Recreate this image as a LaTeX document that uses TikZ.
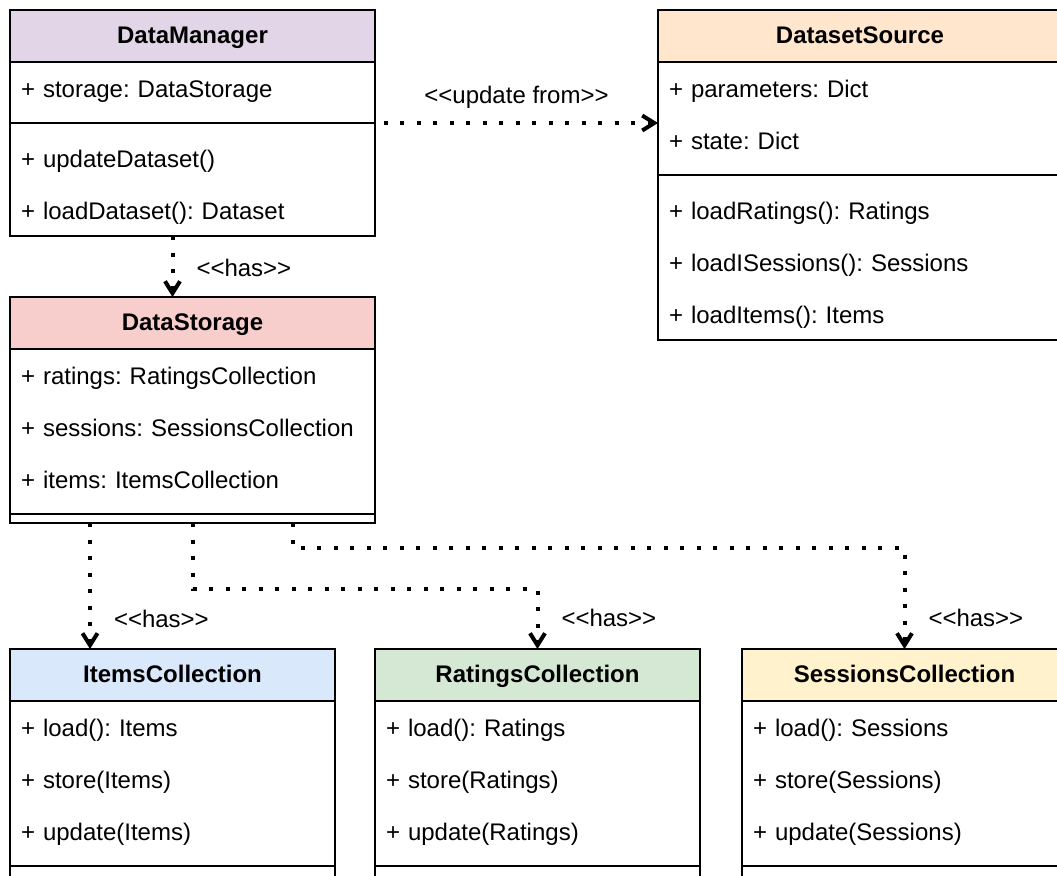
\documentclass[tikz,border=0pt]{standalone}
\usepackage{fontspec}
\usepackage{tikz}
\usetikzlibrary{arrows.meta}
\usetikzlibrary{positioning}
\newfontfamily\umlfont{Liberation Sans}
\definecolor{mgrpurple}{HTML}{E1D5E7}
\definecolor{srcorange}{HTML}{FFE6CC}
\definecolor{storered}{HTML}{F8CECC}
\definecolor{itemblue}{HTML}{DAE8FC}
\definecolor{ratinggreen}{HTML}{D5E8D4}
\definecolor{sessionyellow}{HTML}{FFF2CC}

\begin{document}
\umlfont\fontsize{12pt}{14pt}\selectfont\frenchspacing
\begin{tikzpicture}[
        x=0.5pt, y=-0.5pt,
        line width=1pt,
        every node/.style={outer sep=0pt},
        umlhead/.style={draw, fill=#1, font=\bfseries, minimum height=26pt, inner sep=0pt, text height=10pt, text depth=2.5pt, anchor=north},
        umlrow/.style={text width=#1, align=left, inner xsep=5.5pt, inner ysep=0pt, minimum height=26pt, text height=12pt, text depth=2.5pt, anchor=north},
        umlgap/.style={umlrow=#1, minimum height=9pt, text height=0pt, text depth=0pt},
        dep/.style={line width=2pt, dash pattern=on 2pt off 6.25pt, -{Straight Barb[length=6pt,width=7.5pt]}},
        deplabel/.style={inner sep=0pt, text height=12pt, text depth=2.5pt}
    ]
    \useasboundingbox (0,0) rectangle (1057,875);
    \clip (0,0) rectangle (1057,875);

    % DataManager
    \node[umlhead=mgrpurple, minimum width=182.5pt] (mgr) at (192.5,10) {DataManager};
    \node[umlrow=171.5pt, below=0pt of mgr] (mgr1) {+ storage: DataStorage};
    \node[umlgap=171.5pt, below=0pt of mgr1] (mgrsep) {};
    \node[umlrow=171.5pt, below=0pt of mgrsep] (mgr2) {+ updateDataset()};
    \node[umlrow=171.5pt, below=0pt of mgr2] (mgr3) {+ loadDataset(): Dataset};
    \draw (mgr.north west) rectangle (mgr3.south east);
    \draw (mgrsep.west) -- (mgrsep.east);

    % DatasetSource
    \node[umlhead=srcorange, minimum width=202pt, right=141.5pt of mgr] (src) {DatasetSource};
    \node[umlrow=191pt, below=0pt of src] (src1) {+ parameters: Dict};
    \node[umlrow=191pt, below=0pt of src1] (src2) {+ state: Dict};
    \node[umlgap=191pt, below=0pt of src2] (srcsep) {};
    \node[umlrow=191pt, below=0pt of srcsep] (src3) {+ loadRatings(): Ratings};
    \node[umlrow=191pt, below=0pt of src3] (src4) {+ loadISessions(): Sessions};
    \node[umlrow=191pt, below=0pt of src4] (src5) {+ loadItems(): Items};
    \draw (src.north west) rectangle (src5.south east);
    \draw (srcsep.west) -- (srcsep.east);

    % DataStorage
    \node[umlhead=storered, minimum width=182.5pt, below=30.5pt of mgr3] (stor) {DataStorage};
    \node[umlrow=171.5pt, below=0pt of stor] (stor1) {+ ratings: RatingsCollection};
    \node[umlrow=171.5pt, below=0pt of stor1] (stor2) {+ sessions: SessionsCollection};
    \node[umlrow=171.5pt, below=0pt of stor2] (stor3) {+ items: ItemsCollection};
    \node[umlgap=171.5pt, below=0pt of stor3] (storsep) {};
    \draw (stor.north west) rectangle (storsep.south east);
    \draw (storsep.west) -- (storsep.east);

    % ItemsCollection
    \node[umlhead=itemblue, minimum width=162.5pt, below right=63pt and 0pt of storsep.south west] (items) {ItemsCollection};
    \node[umlrow=151.5pt, below=0pt of items] (items1) {+ load(): Items};
    \node[umlrow=151.5pt, below=0pt of items1] (items2) {+ store(Items)};
    \node[umlrow=151.5pt, below=0pt of items2] (items3) {+ update(Items)};
    \node[umlgap=151.5pt, below=0pt of items3] (itemssep) {};
    \draw (items.north west) rectangle ([yshift=-20pt]itemssep.south east);
    \draw (itemssep.west) -- (itemssep.east);

    % RatingsCollection
    \node[umlhead=ratinggreen, minimum width=162.5pt, right=20pt of items] (rat) {RatingsCollection};
    \node[umlrow=151.5pt, below=0pt of rat] (rat1) {+ load(): Ratings};
    \node[umlrow=151.5pt, below=0pt of rat1] (rat2) {+ store(Ratings)};
    \node[umlrow=151.5pt, below=0pt of rat2] (rat3) {+ update(Ratings)};
    \node[umlgap=151.5pt, below=0pt of rat3] (ratsep) {};
    \draw (rat.north west) rectangle ([yshift=-20pt]ratsep.south east);
    \draw (ratsep.west) -- (ratsep.east);

    % SessionsCollection
    \node[umlhead=sessionyellow, minimum width=162.5pt, right=21pt of rat] (sess) {SessionsCollection};
    \node[umlrow=151.5pt, below=0pt of sess] (sess1) {+ load(): Sessions};
    \node[umlrow=151.5pt, below=0pt of sess1] (sess2) {+ store(Sessions)};
    \node[umlrow=151.5pt, below=0pt of sess2] (sess3) {+ update(Sessions)};
    \node[umlgap=151.5pt, below=0pt of sess3] (sesssep) {};
    \draw (sess.north west) rectangle ([yshift=-20pt]sesssep.south east);
    \draw (sesssep.west) -- (sesssep.east);

    % dependencies
    \draw[dep, dash phase=4pt] (mgrsep.east) -- (mgrsep.east -| src.west)
        node[deplabel, midway, above=7.5pt] {<<update from>>};
    \draw[dep] ([xshift=-10pt]mgr3.south) -- ([xshift=-10pt]stor.north)
        node[deplabel, midway, right=12pt] {<<has>>};
    \draw[dep] ([xshift=40pt]storsep.south west) -- ([xshift=40pt]items.north west)
        node[deplabel, pos=0.75, right=12pt] {<<has>>};
    \draw[dep] (storsep.south) -- ++(0,66) -| (rat.north)
        node[deplabel, pos=0.73, right=12pt] {<<has>>};
    \draw[dep] ([xshift=50pt]storsep.south) -- ++(0,25) -| (sess.north)
        node[deplabel, pos=0.84, right=12pt] {<<has>>};
\end{tikzpicture}
\end{document}
